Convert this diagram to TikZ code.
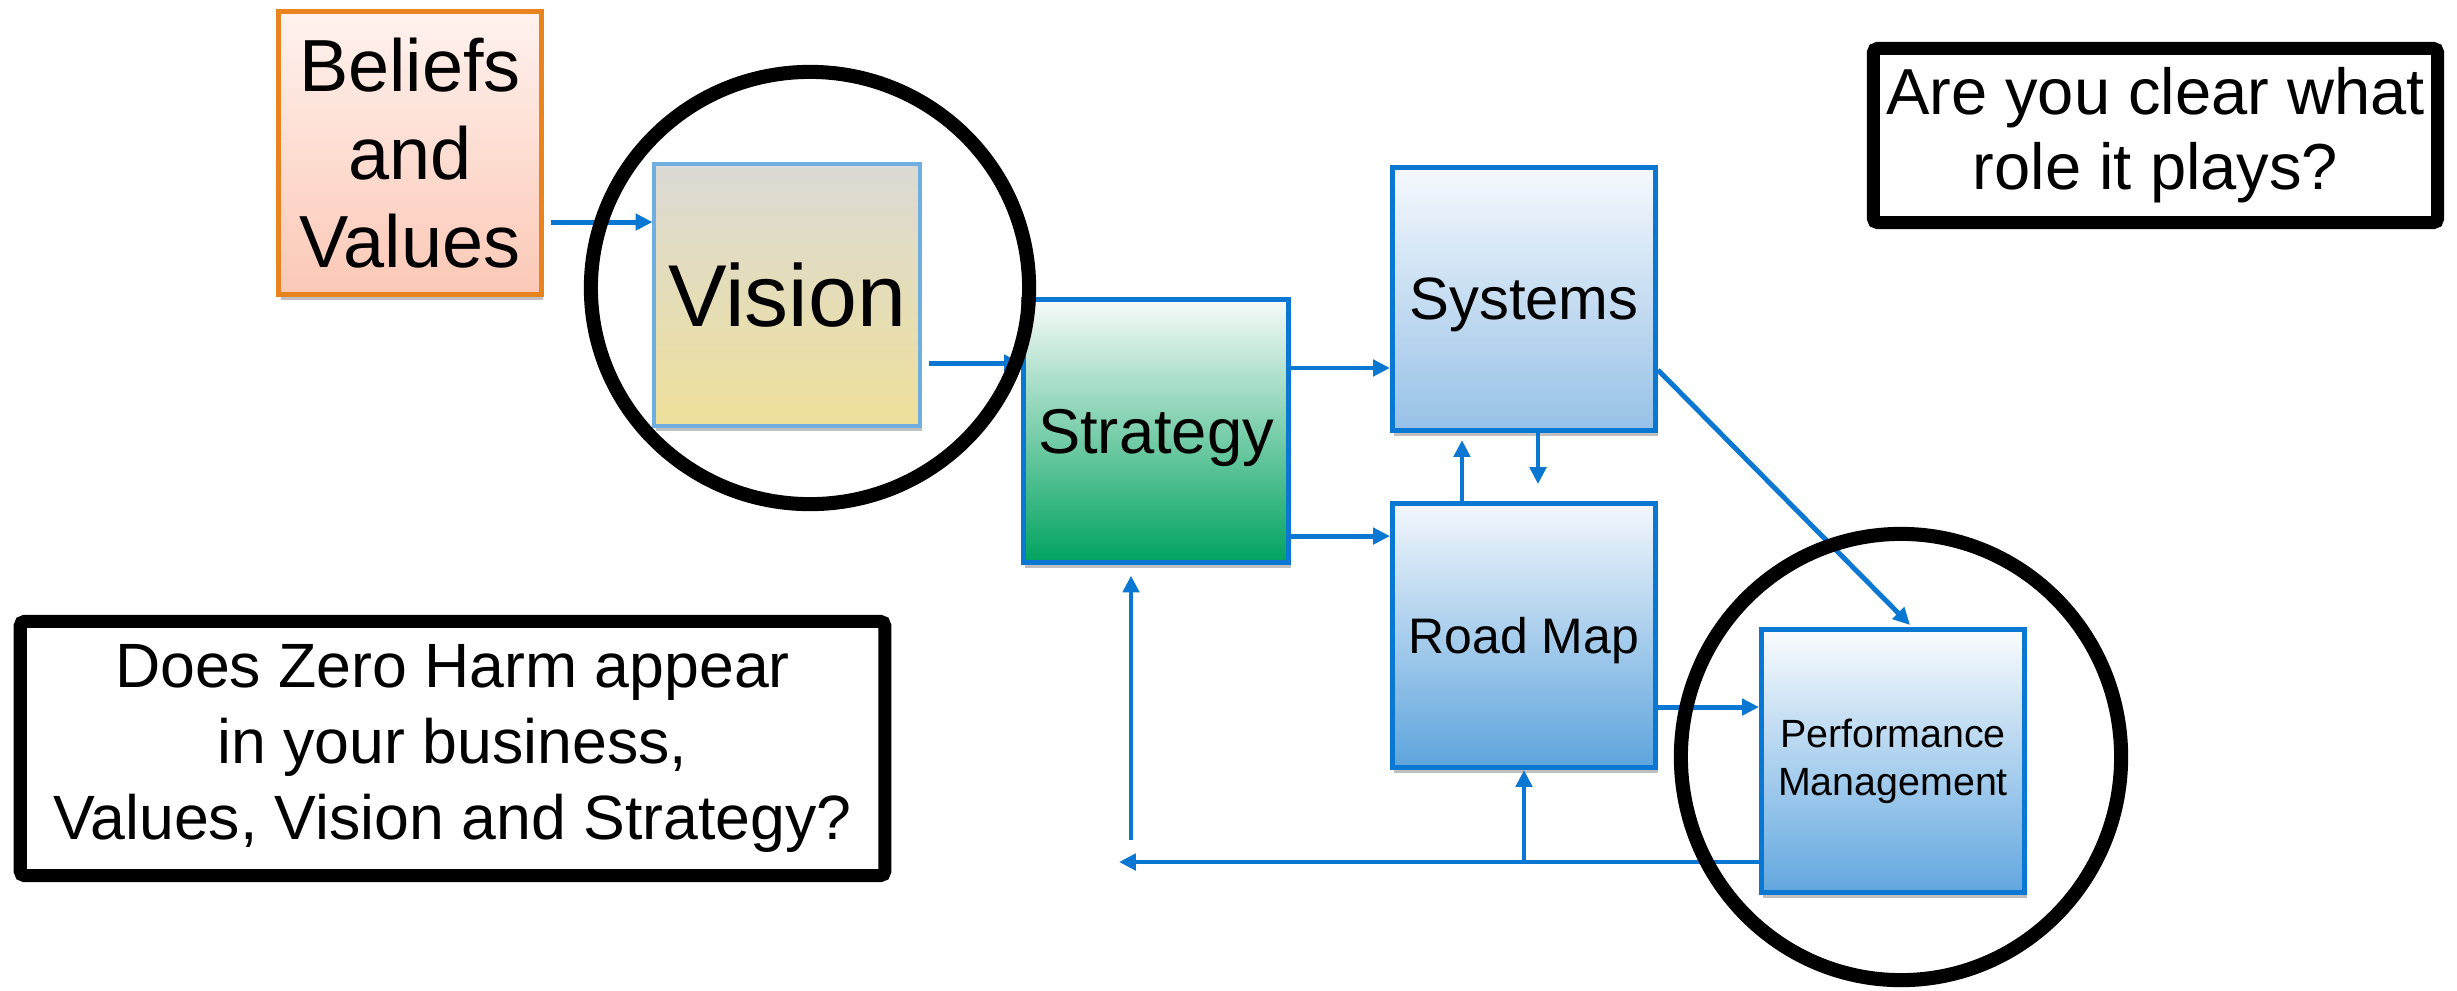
\documentclass[tikz,border=0pt]{standalone}
\usepackage{fontspec}
\setmainfont{Liberation Sans}
\usetikzlibrary{arrows.meta,shadows}
\definecolor{lineblue}{RGB}{10,120,210}
\definecolor{orangeb}{RGB}{232,131,31}
\definecolor{belTop}{RGB}{255,242,238}
\definecolor{belBot}{RGB}{252,200,182}
\definecolor{visTop}{RGB}{220,218,214}
\definecolor{visBot}{RGB}{238,224,154}
\definecolor{visBorder}{RGB}{111,174,223}
\definecolor{strTop}{RGB}{247,250,249}
\definecolor{strBot}{RGB}{0,163,95}
\definecolor{sysTop}{RGB}{246,249,253}
\definecolor{sysBot}{RGB}{150,193,231}
\definecolor{rmTop}{RGB}{243,247,252}
\definecolor{rmBot}{RGB}{93,164,221}
\definecolor{pmTop}{RGB}{250,252,254}
\definecolor{pmBot}{RGB}{98,167,223}
\tikzset{
  box/.style={rectangle, draw=lineblue, line width=1.4pt, align=center, inner sep=0pt,
    minimum width=2.63cm, minimum height=2.63cm,
    drop shadow={shadow xshift=0.02cm, shadow yshift=-0.05cm, opacity=0.25, fill=black}},
  conn/.style={draw=lineblue, line width=1.4pt, -{Triangle[length=4.8pt,width=4.6pt]}},
  ring/.style={draw=black, line width=4pt},
  qbox/.style={rectangle, draw=black, line width=3.7pt, rounded corners=1.2pt, align=center, inner sep=0pt, fill=white}
}
\begin{document}
\begin{tikzpicture}[x=0.01cm,y=-0.01cm]
\useasboundingbox[fill=white] (0,0) rectangle (2457,990);

% boxes
\node[box, draw=orangeb, top color=belTop, bottom color=belBot, minimum width=2.62cm, minimum height=2.83cm,
  font={\fontsize{21pt}{25pt}\selectfont}] (beliefs) at (410,153) {Beliefs\\and\\Values};
\node[box, draw=visBorder, line width=1.1pt, top color=visTop, bottom color=visBot, minimum width=2.65cm, minimum height=2.62cm,
  text depth=0pt, font={\fontsize{25pt}{30pt}\selectfont}] (vision) at (787,295) {Vision};
\node[box, top color=strTop, bottom color=strBot, minimum width=2.65cm, minimum height=2.63cm,
  text depth=0pt, font={\fontsize{18pt}{22pt}\selectfont}] (strategy) at (1156,431) {Strategy};
\node[box, top color=sysTop, bottom color=sysBot,
  text depth=0pt, font={\fontsize{17pt}{20pt}\selectfont}] (systems) at (1524,299) {Systems};
\node[box, top color=rmTop, bottom color=rmBot, minimum height=2.64cm,
  text depth=0pt, font={\fontsize{14.2pt}{17pt}\selectfont}] (roadmap) at (1524,635.5) {Road Map};
\node[box, top color=pmTop, bottom color=pmBot,
  font={\fontsize{11.2pt}{13.7pt}\selectfont}] (pm) at (1893,761) {Performance\\Management};

% connectors
\coordinate (a1) at ([yshift=-0.69cm]beliefs.east);
\draw[conn, shorten <=2pt] (a1) -- (a1 -| vision.west);
\coordinate (a2) at ([yshift=-0.68cm]vision.east);
\draw[conn, shorten <=2pt] (a2) -- (a2 -| strategy.west);
\coordinate (a3) at ([yshift=0.63cm]strategy.east);
\draw[conn] (a3) -- (a3 -| systems.west);
\coordinate (a4) at ([yshift=-1.05cm]strategy.east);
\draw[conn] (a4) -- (a4 -| systems.west);
\coordinate (a5) at ([xshift=-0.62cm]roadmap.north);
\draw[conn, shorten >=2pt] (a5) -- (a5 |- systems.south);
\coordinate (a6) at ([xshift=0.14cm]systems.south);
\draw[conn, shorten >=4.8pt] (a6) -- (a6 |- roadmap.north);
\coordinate (a7) at ([yshift=-0.71cm]systems.east);
\coordinate (a7e) at ([xshift=0.17cm,yshift=0.02cm]pm.north);
\draw[conn] (a7) -- (a7e);
\coordinate (a8) at ([yshift=-0.715cm]roadmap.east);
\draw[conn] (a8) -- (a8 -| pm.west);
\coordinate (fb) at (pm.west |- 0,862);
\coordinate (fbend) at (1119,862);
\draw[conn] (fb) -- (fbend);
\draw[conn] (roadmap.south |- fb) -- (roadmap.south);
\coordinate (fbup) at (1131,840);
\draw[conn, shorten >=3pt] (fbup) -- (fbup |- strategy.south);

% question boxes
\node[qbox, minimum width=5.64cm, minimum height=1.74cm,
  font={\fontsize{18.5pt}{21.3pt}\selectfont}] (q1) at (2155.5,135.5) {Are you clear what\\role it plays?};
\node[qbox, minimum width=8.64cm, minimum height=2.54cm,
  font={\fontsize{17.8pt}{21.6pt}\selectfont}] (q2) at (452.5,748.5) {Does Zero Harm appear\\in your business,\\Values, Vision and Strategy?};

% highlight rings
\draw[ring] (810,288) ellipse [x radius=2.19cm, y radius=2.16cm];
\draw[ring] (1901,757) ellipse [x radius=2.2cm, y radius=2.23cm];
\end{tikzpicture}
\end{document}
